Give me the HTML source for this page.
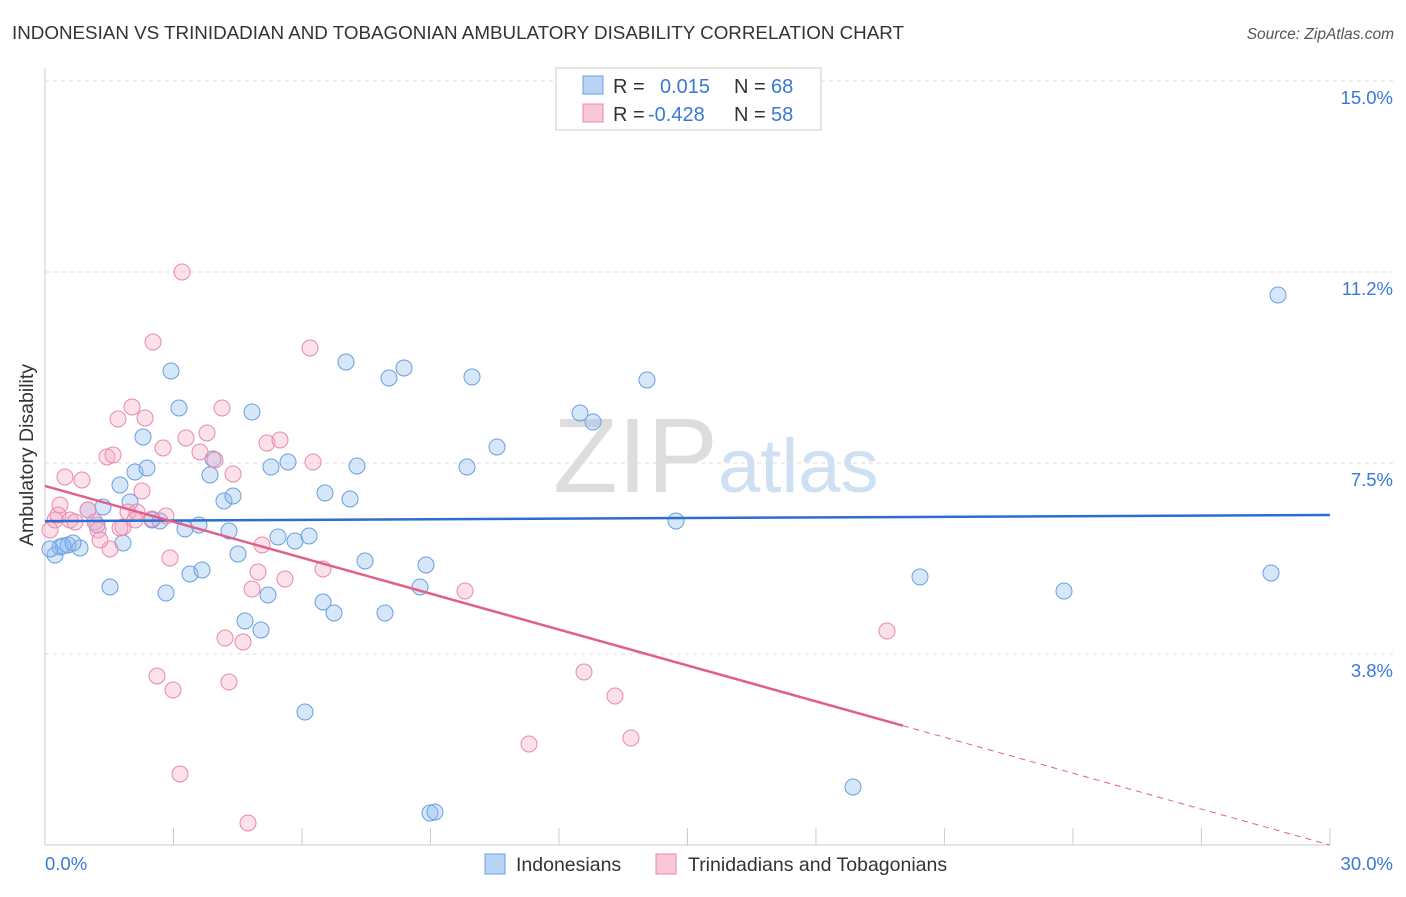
<!DOCTYPE html>
<html><head><meta charset="utf-8"><style>
body{margin:0;background:#fff;font-family:"Liberation Sans",sans-serif;}
svg text{font-family:"Liberation Sans",sans-serif;}
</style></head><body>
<svg id="chart" width="1406" height="892" xmlns="http://www.w3.org/2000/svg">
<text x="12" y="39" font-size="18.8" fill="#333">INDONESIAN VS TRINIDADIAN AND TOBAGONIAN AMBULATORY DISABILITY CORRELATION CHART</text>
<text x="1394" y="39" font-size="15.5" fill="#555" font-style="italic" text-anchor="end">Source: ZipAtlas.com</text>
<text x="33" y="455" font-size="19.5" fill="#333" text-anchor="middle" transform="rotate(-90 33 455)">Ambulatory Disability</text>
<text x="553" y="492" font-size="106" fill="#ddd" font-family="Liberation Serif">ZIP</text>
<text x="718" y="492" font-size="76" fill="#cfe0f3">atlas</text>
<g id="grid"></g><g id="pts"></g><g id="lines"></g>
<g>
<rect x="556" y="68" width="265" height="62" fill="#fff" stroke="#ccc"/>
<rect x="583" y="76" width="20" height="18" fill="#b8d4f5" stroke="#6a9fe0"/>
<text x="613" y="93" font-size="20" fill="#333">R =</text><text x="660" y="93" font-size="20" fill="#3a78d8">0.015</text>
<text x="734" y="93" font-size="20" fill="#333">N =</text><text x="771" y="93" font-size="20" fill="#3a78d8">68</text>
<rect x="583" y="104" width="20" height="18" fill="#f9c7d6" stroke="#e88aa8"/>
<text x="613" y="121" font-size="20" fill="#333">R =</text><text x="648" y="121" font-size="20" fill="#3a78d8">-0.428</text>
<text x="734" y="121" font-size="20" fill="#333">N =</text><text x="771" y="121" font-size="20" fill="#3a78d8">58</text>
</g>
<g>
<rect x="485" y="854" width="20" height="20" fill="#b8d4f5" stroke="#6a9fe0"/>
<text x="516" y="871" font-size="19.5" fill="#333">Indonesians</text>
<rect x="656" y="854" width="20" height="20" fill="#f9c7d6" stroke="#e88aa8"/>
<text x="688" y="871" font-size="19.5" fill="#333">Trinidadians and Tobagonians</text>
</g>
</svg>
<script>
const yTicks=[15,11.25,7.5,3.75];
const yTickLabels=["15.0%","11.2%","7.5%","3.8%"];
const xTicks=[0,3,6,9,12,15,18,21,24,27,30];
const blueX=[55,60,68,80,73,110,120,123,130,135,143,147,152,160,166,171,179,185,190,199,202,210,213,224,229,233,238,245,252,261,268,271,278,288,295,305,309,323,325,334,346,350,357,365,385,389,404,420,426,430,435,467,472,497,580,593,647,676,853,920,1064,1271,1278,88,97,103,63,50].map(p=>(p-45)/42.83);
const blueY=[555,547,545,548,543,587,485,543,502,472,437,468,520,521,593,371,408,529,574,525,570,475,459,501,531,496,554,621,412,630,595,467,537,462,541,712,536,602,493,613,362,499,466,561,613,378,368,587,565,813,812,467,377,447,413,422,380,521,787,577,591,573,295,510,525,507,546,549].map(p=>(845-p)/50.93);
const pinkX=[50,55,58,60,65,70,75,82,88,95,98,107,110,113,118,123,128,132,137,142,145,153,157,163,166,170,173,180,182,186,200,207,215,222,225,229,233,243,248,252,258,262,267,280,285,310,313,323,465,529,584,615,631,887,135,100,120,152].map(p=>(p-45)/42.83);
const pinkY=[530,520,515,505,477,520,522,480,510,522,530,457,549,455,419,527,512,407,512,491,418,342,676,448,516,558,690,774,272,438,452,433,460,408,638,682,474,642,823,589,572,545,443,440,579,348,462,569,591,744,672,696,738,631,520,540,528,519].map(p=>(845-p)/50.93);
const blueLine=[6.36,6.48];
const pinkLine=[7.05,0];
const sx=v=>45+v*42.83, sy=v=>845-v*50.93;
const NS="http://www.w3.org/2000/svg";
function mk(tag,attrs,parent,txt){const e=document.createElementNS(NS,tag);for(const k in attrs)e.setAttribute(k,attrs[k]);if(txt)e.textContent=txt;document.getElementById(parent).appendChild(e);return e;}
yTicks.forEach((t,i)=>{
 const l=mk('line',{x1:45,x2:1394,y1:sy(t),y2:sy(t),stroke:'#ddd','stroke-dasharray':'4,4'},'grid');
 
 
 const tx=mk('text',{x:1393,y:sy(t)+23,'font-size':18.5,fill:'#3a78d8','text-anchor':'end'},'grid',yTickLabels[i]);
 
 
});
const ax=mk('line',{x1:45,x2:1330,y1:845,y2:845,stroke:'#ccc'},'grid');


const ay=mk('line',{x1:45,x2:45,y1:68,y2:845,stroke:'#ccc'},'grid');


xTicks.forEach(t=>{const l=mk('line',{x1:sx(t),x2:sx(t),y1:828,y2:845,stroke:'#ccc'},'grid');
 
 });
const x0=mk('text',{x:45,y:870,'font-size':18.5,fill:'#3a78d8'},'grid','0.0%');


const x1=mk('text',{x:1393,y:870,'font-size':18.5,fill:'#3a78d8','text-anchor':'end'},'grid','30.0%');


blueX.forEach((x,i)=>{const c=mk('circle',{cx:sx(x),cy:sy(blueY[i]),r:8,fill:'rgba(140,185,240,0.35)',stroke:'#6a9fe0','stroke-width':1},'pts');
 
 });
pinkX.forEach((x,i)=>{const c=mk('circle',{cx:sx(x),cy:sy(pinkY[i]),r:8,fill:'rgba(245,170,195,0.35)',stroke:'#e88aa8','stroke-width':1},'pts');
 
 });
const bl=mk('line',{x1:sx(0),y1:sy(blueLine[0]),x2:sx(30),y2:sy(blueLine[1]),stroke:'#2a6fd0','stroke-width':2.5},'lines');


const xs=20.03, ym=pinkLine[0]+(pinkLine[1]-pinkLine[0])*xs/30;
const pl=mk('line',{x1:sx(0),y1:sy(pinkLine[0]),x2:sx(xs),y2:sy(ym),stroke:'#e0608a','stroke-width':2.5},'lines');


const pd=mk('line',{x1:sx(xs),y1:sy(ym),x2:sx(30),y2:sy(pinkLine[1]),stroke:'#e0608a','stroke-width':1,'stroke-dasharray':'6,5'},'lines');


</script>
</body></html>
